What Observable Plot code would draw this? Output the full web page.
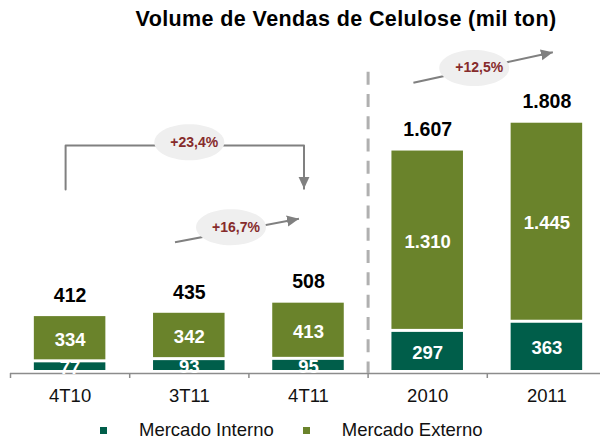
<!DOCTYPE html>
<html>
<head>
<meta charset="utf-8">
<script src="https://cdn.jsdelivr.net/npm/d3@7"></script>
<script src="https://cdn.jsdelivr.net/npm/@observablehq/plot@0.6"></script>
<style>
  html, body { margin: 0; padding: 0; background: #fff; overflow: hidden; }
  body { width: 600px; height: 441px; font-family: "Liberation Sans", Arial, sans-serif; }
  #title { height: 38px; line-height: 38px; padding-left: 92px; text-align: center; font-weight: bold; font-size: 21.5px; letter-spacing: 0.4px; color: #000; white-space: nowrap; }
  #chart svg { display: block; }
  #legend { height: 22px; padding-top: 4px; padding-left: 100px; display: flex; align-items: center; font-size: 18.5px; line-height: 20px; color: #111; white-space: nowrap; }
  #legend .sw { width: 7px; height: 7px; margin-right: 32px; flex: none; }
  #legend .sw2 { margin-left: 29px; }
</style>
</head>
<body>
<div id="title">Volume de Vendas de Celulose (mil ton)</div>
<div id="chart"></div>
<div id="legend"></div>
<script>
// ---- data ----
const categories = ["4T10", "3T11", "4T11", "2010", "2011"];
const series = ["Mercado Interno", "Mercado Externo"];
const interno = [77, 93, 95, 297, 363];
const externo = [334, 342, 413, 1310, 1445];
const totals = [412, 435, 508, 1607, 1808];
const colors = ["#005e4a", "#6a832b"];

// growth annotations (positions in category-index / value units)
const growthText = ["+23,4%", "+16,7%", "+12,5%"];
const growthX = [1.0, 1.35, 3.39];
const growthY = [1671, 1057, 2207];
const bracketX = [0, 0, 2, 2];
const bracketY = [1329, 1647, 1647, 1334];
const arrowX1 = [0.88, 2.88];
const arrowY1 = [948, 2100];
const arrowX2 = [1.92, 4.05];
const arrowY2 = [1118, 2321];
const separatorAfter = "4T11";
const separatorTop = 2177;

// ---- tables built from the arrays ----
const rows = [];
categories.forEach((c, i) => {
  rows.push({i, cat: c, serie: series[0], value: interno[i], y1: 0, y2: interno[i]});
  rows.push({i, cat: c, serie: series[1], value: externo[i], y1: interno[i], y2: interno[i] + externo[i]});
});
const totalRows = categories.map((c, i) => ({i, total: totals[i]}));
const growthRows = growthText.map((t, k) => ({x: growthX[k], y: growthY[k], text: t}));
const bracketRows = bracketX.map((x, k) => ({x, y: bracketY[k]}));
const arrowRows = arrowX1.map((x, k) => ({x1: x, y1: arrowY1[k], x2: arrowX2[k], y2: arrowY2[k]}));
const idx = categories.map((_, i) => i);
const boundaries = categories.map((_, i) => i - 0.5);
const sepX = categories.indexOf(separatorAfter) + 0.5;

const fmt = d3.formatLocale({decimal: ",", thousands: ".", grouping: [3], currency: ["R$", ""]}).format(",d");
const half = 0.3;

function filledArrow(color) {
  const ns = "http://www.w3.org/2000/svg";
  const m = document.createElementNS(ns, "marker");
  m.setAttribute("viewBox", "-12 -6 12 12");
  m.setAttribute("markerWidth", "12");
  m.setAttribute("markerHeight", "12");
  m.setAttribute("markerUnits", "userSpaceOnUse");
  m.setAttribute("orient", "auto");
  m.setAttribute("refX", "0");
  m.setAttribute("refY", "0");
  const p = document.createElementNS(ns, "path");
  p.setAttribute("d", "M-12,-5.5L0,0L-12,5.5Z");
  p.setAttribute("fill", color);
  p.setAttribute("stroke", "none");
  m.appendChild(p);
  return m;
}

const ellipse = {
  draw(ctx) {
    const rx = 35, ry = 18, k = 0.5523;
    ctx.moveTo(rx, 0);
    ctx.bezierCurveTo(rx, ry * k, rx * k, ry, 0, ry);
    ctx.bezierCurveTo(-rx * k, ry, -rx, ry * k, -rx, 0);
    ctx.bezierCurveTo(-rx, -ry * k, -rx * k, -ry, 0, -ry);
    ctx.bezierCurveTo(rx * k, -ry, rx, -ry * k, rx, 0);
    ctx.closePath();
  }
};

const chart = Plot.plot({
  width: 600,
  height: 377,
  marginTop: 0,
  marginBottom: 42,
  marginLeft: 10,
  marginRight: 0,
  style: {fontFamily: "'Liberation Sans', Arial, sans-serif", fontSize: "18.5px", color: "#000", background: "#fff"},
  x: {type: "linear", domain: [-0.5, 4.5], range: [10, 606], label: null},
  y: {domain: [0, 2420], range: [335, 0], axis: null, label: null},
  color: {domain: series, range: colors},
  marks: [
    Plot.rectY(rows, {x1: d => d.i - half, x2: d => d.i + half, y1: "y1", y2: "y2", fill: "serie", insetBottom: 3}),
    Plot.ruleY([0], {stroke: "#8c8c8c", strokeWidth: 1.5}),
    Plot.text(rows, {x: "i", y: d => (d.y1 + d.y2) / 2, text: d => fmt(d.value), fill: "white", fontWeight: "bold", fontSize: 18.5}),
    Plot.text(totalRows, {x: "i", y: "total", text: d => fmt(d.total), dy: -21, fill: "#000", fontWeight: "bold", fontSize: 19.5}),
    Plot.ruleX([sepX], {y1: separatorTop, y2: 0, stroke: "#b0b0b0", strokeWidth: 3, strokeDasharray: "13,9.3"}),
    Plot.line(bracketRows, {x: "x", y: "y", dx: -4.5, stroke: "#808080", strokeWidth: 2, curve: "linear", markerEnd: filledArrow}),
    Plot.link(arrowRows, {x1: "x1", y1: "y1", x2: "x2", y2: "y2", stroke: "#808080", strokeWidth: 2, markerEnd: filledArrow}),
    Plot.dot(growthRows, {x: "x", y: "y", symbol: ellipse, fill: "#efefef", stroke: null}),
    Plot.text(growthRows, {x: "x", y: "y", text: "text", dx: 5, fill: "#862b2b", fontWeight: "bold", fontSize: 14}),
    Plot.axisX({ticks: boundaries, tickSize: 5, tickFormat: () => "", stroke: "#8c8c8c", strokeWidth: 1.5}),
    Plot.axisX({ticks: idx, tickSize: 0, tickPadding: 15, tickFormat: i => categories[i], fontSize: 18.5, fill: "#111"})
  ]
});
document.getElementById("chart").appendChild(chart);

const legend = document.getElementById("legend");
series.forEach((s, k) => {
  const sw = document.createElement("span");
  sw.className = "sw" + (k > 0 ? " sw2" : "");
  sw.style.background = colors[k];
  const t = document.createElement("span");
  t.textContent = s;
  legend.appendChild(sw);
  legend.appendChild(t);
});
</script>
</body>
</html>
